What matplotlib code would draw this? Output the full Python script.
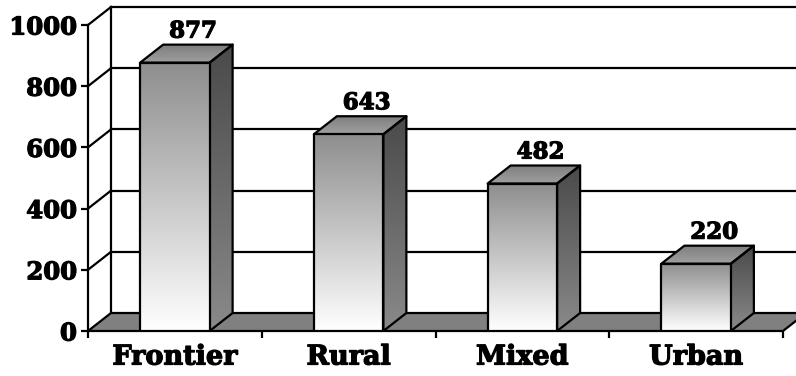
import numpy as np
import matplotlib.pyplot as plt
import matplotlib.patheffects as pe
from matplotlib.patches import Polygon
from matplotlib.colors import LinearSegmentedColormap

# data
categories = ['Frontier', 'Rural', 'Mixed', 'Urban']
counts = [877, 643, 482, 220]
y_ticks = [0, 200, 400, 600, 800, 1000]

W, H = 796, 376
FONT = 'DejaVu Serif'
heavy = [pe.withStroke(linewidth=0.9, foreground='black')]

fig = plt.figure(figsize=(W / 100, H / 100), dpi=100)
# axes = front plane of the 3d box
ax = fig.add_axes([88 / W, 1 - 331 / H, (783 - 88) / W, (331 - 25) / H])
ax.set_xlim(0, len(categories))
ax.set_ylim(0, 1000)

dx = 23 / (695 / 4)      # depth offset in category units
dy = 18 / (306 / 1000)   # depth offset in value units
n = len(categories)
bar_w = 0.4
lw = 1.6


def grad_fill(pts, c_low, c_high, z):
    poly = Polygon(pts, closed=True, fc='none', ec='none', zorder=z)
    ax.add_patch(poly)
    xs = [p[0] for p in pts]
    ys = [p[1] for p in pts]
    cmap = LinearSegmentedColormap.from_list('g', [c_low, c_high])
    grad = np.linspace(0, 1, 256).reshape(-1, 1)
    im = ax.imshow(grad, cmap=cmap, extent=(min(xs), max(xs), min(ys), max(ys)),
                   origin='lower', aspect='auto', zorder=z, interpolation='bilinear')
    im.set_clip_path(poly)
    ax.add_patch(Polygon(pts, closed=True, fc='none', ec='black', lw=lw, zorder=z + 0.1,
                         joinstyle='round'))


# back wall + side wall grid
for v in y_ticks[1:]:
    ax.plot([dx, n + dx], [v + dy, v + dy], color='black', lw=lw, zorder=1, clip_on=False)
    ax.plot([0, dx], [v, v + dy], color='black', lw=lw, zorder=1, clip_on=False)
ax.plot([dx, dx], [dy, 1000 + dy], color='black', lw=lw, zorder=1, clip_on=False)

# floor
ax.add_patch(Polygon([(0, 0), (n, 0), (n + dx, dy), (dx, dy)], closed=True,
                     fc='#808080', ec='black', lw=lw, zorder=2, clip_on=False))

# bars
for i, v in enumerate(counts):
    x0 = i + 0.5 - bar_w / 2
    x1 = i + 0.5 + bar_w / 2
    grad_fill([(x1, 0), (x1 + dx, dy), (x1 + dx, v + dy), (x1, v)], '#8a8a8a', '#4a4a4a', 3)
    grad_fill([(x0, v), (x1, v), (x1 + dx, v + dy), (x0 + dx, v + dy)], '#a0a0a0', '#7e7e7e', 3)
    grad_fill([(x0, 0), (x1, 0), (x1, v), (x0, v)], '#ffffff', '#8e8e8e', 4)
    ax.text(i + 0.5 + 0.104, v + dy + 23, str(v), ha='center', va='baseline',
            fontsize=16.5, fontweight='bold', family=FONT, zorder=6, path_effects=heavy)

ax.set_xlim(0, n)
ax.set_ylim(0, 1000)

for s in ['top', 'right', 'bottom']:
    ax.spines[s].set_visible(False)
ax.spines['left'].set_linewidth(lw)
ax.spines['left'].set_zorder(5)

ax.set_yticks(y_ticks)
ax.set_yticklabels([str(t) for t in y_ticks], fontsize=17.5, fontweight='bold', family=FONT)
ax.tick_params(axis='y', direction='out', length=5, width=lw, pad=3)

ax.set_xticks(range(n + 1))
ax.set_xticklabels([])
ax.set_xticks([i + 0.5 for i in range(n)], minor=True)
ax.set_xticklabels(categories, minor=True, fontsize=19.5, fontweight='bold', family=FONT)
ax.tick_params(axis='x', which='major', direction='out', length=5, width=lw)
ax.tick_params(axis='x', which='minor', length=0, pad=9)
for lab in ax.get_yticklabels() + ax.get_xticklabels(minor=True):
    lab.set_path_effects(heavy)
ax.patch.set_visible(False)

fig.savefig('out.png', dpi=100)
